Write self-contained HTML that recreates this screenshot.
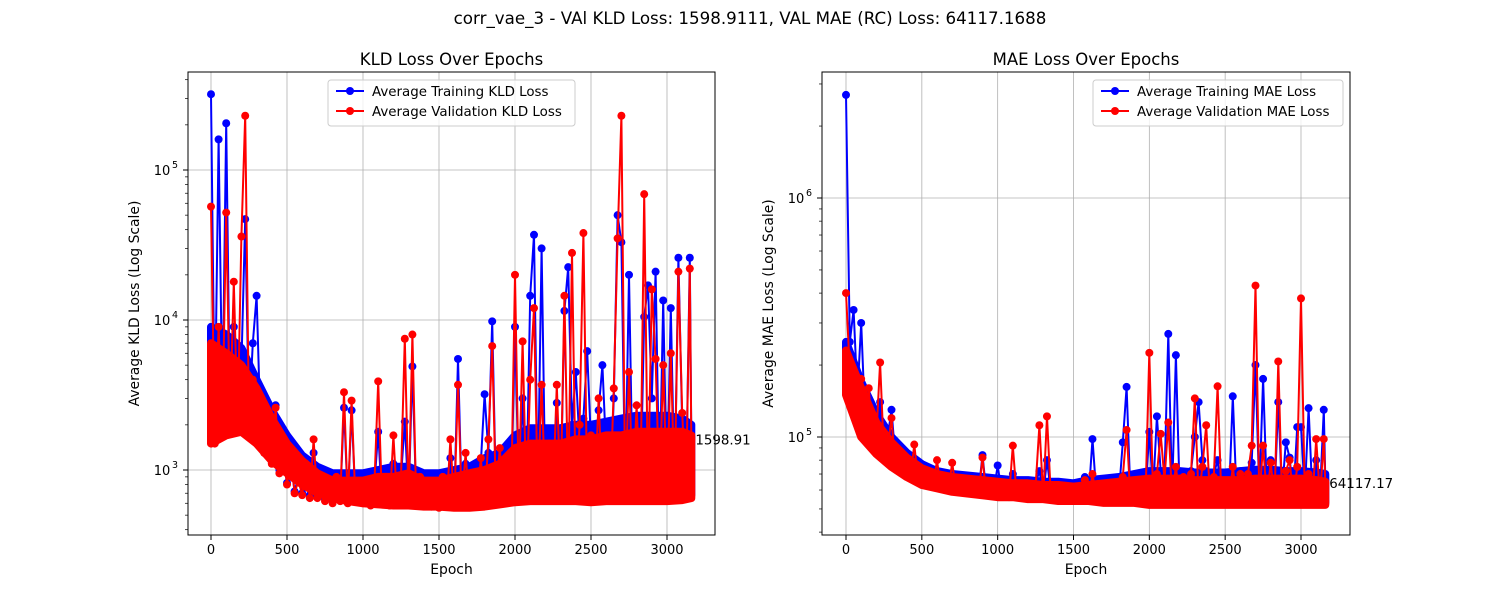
<!DOCTYPE html>
<html><head><meta charset="utf-8"><style>
body{margin:0;background:#fff;font-family:"Liberation Sans","DejaVu Sans",sans-serif;}
svg text{font-family:"DejaVu Sans","Liberation Sans",sans-serif;fill:#000;}
</style></head><body>
<svg id="chart" width="1500" height="600" xmlns="http://www.w3.org/2000/svg">
<rect width="1500" height="600" fill="#fff"/>
<text x="750" y="24" font-size="16.7" text-anchor="middle">corr_vae_3 - VAl KLD Loss: 1598.9111, VAL MAE (RC) Loss: 64117.1688</text>
</svg>
<script>
const xTicks=[0,500,1000,1500,2000,2500,3000];
const kldVal=[57000,1500,9000,2000,52000,2200,18000,2000,36000,230000,
2000,4000,1500,3000,1300,2000,1100,2600,950,1300,
800,1250,700,850,680,1100,650,1600,650,900,
620,800,600,900,620,3300,600,2900,620,800,
600,700,580,800,3900,600,900,580,1700,600,
900,7500,600,8000,620,900,580,800,570,700,
560,900,580,1600,570,3700,600,1300,570,900,
580,1200,600,1600,6700,650,1400,620,1100,650,
20000,700,7200,650,4000,12000,680,3700,650,1500,
700,3700,650,14500,700,28000,680,2000,38000,700,
1700,680,3000,700,1500,650,3500,35000,230000,700,
4500,700,2700,680,69000,700,16000,5500,700,5000,
680,6000,700,21000,2400,680,22000,1598.91];
const kldTrain=[320000,2000,160000,2500,205000,2300,9000,2200,5000,47000,
2200,7000,14500,2000,1500,1800,1200,2700,1000,1200,
820,1100,720,900,700,1000,680,1300,670,900,
640,850,620,900,640,2600,620,2500,640,820,
620,720,600,800,1800,620,900,600,1100,620,
900,2100,620,4900,640,850,600,800,590,700,
580,900,600,1200,590,5500,620,1100,600,900,
600,1100,3200,1300,9800,680,1200,640,1000,680,
9000,720,3000,680,14500,37000,700,30000,680,1300,
720,2800,680,11500,22500,2000,4500,1500,2200,6200,
1500,700,2500,5000,1300,680,3000,50000,33000,720,
20000,720,2200,700,10500,17000,3000,21000,700,13500,
700,12000,720,26000,2000,700,26000,1650];
const maeVal=[400000,190000,170000,130000,175000,110000,160000,95000,100000,205000,
85000,90000,120000,75000,80000,72000,75000,68000,93000,66000,
70000,64000,68000,62000,80000,61000,66000,60000,78000,60000,
64000,59000,63000,58000,64000,58000,82000,57000,62000,57000,
62000,57000,60000,56000,92000,57000,61000,56000,60000,56000,
62000,112000,56000,122000,57000,60000,56000,59000,55000,59000,
55000,62000,56000,66000,55000,70000,56000,62000,55000,60000,
56000,64000,57000,68000,107000,56000,65000,55000,63000,56000,
225000,57000,70000,103000,66000,115000,56000,75000,55000,68000,
56000,70000,145000,56000,75000,112000,56000,68000,163000,56000,
65000,55000,75000,56000,70000,55000,70000,92000,430000,56000,
92000,56000,78000,55000,207000,56000,72000,80000,55000,75000,
380000,56000,70000,55000,98000,56000,98000,64117.17];
const maeTrain=[2700000,250000,340000,150000,300000,120000,130000,110000,100000,140000,
95000,100000,130000,82000,85000,76000,78000,72000,76000,70000,
72000,67000,70000,65000,72000,64000,68000,63000,70000,62000,
66000,61000,65000,60000,66000,60000,84000,59000,64000,60000,
76000,59000,62000,58000,70000,59000,63000,58000,62000,58000,
64000,72000,58000,80000,59000,62000,58000,61000,57000,61000,
57000,64000,58000,68000,57000,98000,58000,64000,57000,62000,
58000,66000,59000,95000,162000,58000,67000,57000,65000,58000,
105000,59000,122000,72000,68000,270000,58000,220000,57000,70000,
58000,72000,100000,140000,80000,72000,58000,70000,80000,58000,
67000,57000,148000,58000,72000,57000,72000,78000,200000,58000,
175000,58000,80000,57000,140000,58000,95000,82000,57000,110000,
110000,58000,132000,57000,80000,58000,130000,66000];
const kldValLow=[1500,1700,1800,1500,1150,950,800,700,650,620,600,590,580,580,570,570,560,560,570,590,610,620,620,620,620,610,620,620,620,620,620,630,650];
const kldValHigh=[7000,6000,5000,3500,2200,1500,1150,950,850,850,850,900,900,950,850,850,900,950,1000,1100,1400,1500,1500,1500,1600,1600,1700,1700,1800,1800,1800,1800,1700];
const kldTrainLow=[1600,1800,1900,1600,1200,1000,850,750,680,650,630,610,600,600,590,590,580,580,590,610,630,640,640,640,640,630,640,640,640,640,640,650,680];
const kldTrainHigh=[9000,8000,6500,4000,2500,1700,1250,1050,950,950,950,1000,1050,1050,950,950,1000,1050,1200,1300,1700,1900,1900,1900,2000,2000,2100,2200,2300,2300,2300,2200,2000];
const maeValLow=[150000,100000,85000,75000,68000,63000,61000,59000,58000,57000,56000,56000,55000,55000,54000,54000,54000,53000,53000,53000,52000,52000,52000,52000,52000,52000,52000,52000,52000,52000,52000,52000,52000];
const maeValHigh=[230000,160000,115000,95000,82000,74000,70000,68000,67000,66000,65000,64000,64000,63000,63000,62000,63000,64000,65000,66000,67000,67000,67000,66000,66000,66000,66000,67000,67000,67000,67000,66000,65000];
const maeTrainLow=[160000,105000,88000,77000,70000,65000,62000,60000,59000,58000,57000,57000,56000,56000,55000,55000,55000,54000,54000,54000,53000,53000,53000,53000,53000,53000,53000,53000,53000,53000,53000,53000,53000];
const maeTrainHigh=[250000,170000,125000,100000,86000,77000,72000,70000,69000,68000,67000,66000,66000,65000,65000,64000,66000,67000,68000,70000,72000,72000,72000,71000,71000,71000,72000,73000,73000,72000,72000,71000,70000];
const epochStep=25, bandStep=100, lastEpoch=3160;
const NS="http://www.w3.org/2000/svg";
const svg=document.getElementById('chart');
function mk(tag,attrs,parent){const e=document.createElementNS(NS,tag);for(const k in attrs)e.setAttribute(k,attrs[k]);(parent||svg).appendChild(e);return e;}
function epochOf(i,n){return i===n-1?lastEpoch:i*epochStep;}
function bandEpoch(i,n){return i===n-1?lastEpoch:i*bandStep;}
function panel(cfg){
  const g=mk('g',{});
  
  
  const L=cfg.x0,R=cfg.x1,T=72,B=535;
  const xs=e=>cfg.px0+(e)*(cfg.px3000-cfg.px0)/3000;
  const ys=v=>cfg.yA+(Math.log10(v)-cfg.dA)*(cfg.yB-cfg.yA)/(cfg.dB-cfg.dA);
  const lo=cfg.dA+(B-cfg.yA)/(cfg.yB-cfg.yA)*(cfg.dB-cfg.dA), hi=cfg.dA+(T-cfg.yA)/(cfg.yB-cfg.yA)*(cfg.dB-cfg.dA);
  xTicks.forEach(t=>{const l=mk('line',{x1:xs(t),x2:xs(t),y1:T,y2:B,stroke:'#b0b0b0','stroke-width':0.8},g);
    });
  for(let d=Math.ceil(lo);d<=Math.floor(hi);d++){const l=mk('line',{x1:L,x2:R,y1:ys(Math.pow(10,d)),y2:ys(Math.pow(10,d)),stroke:'#b0b0b0','stroke-width':0.8},g);
    }
  const clip=mk('clipPath',{id:cfg.name+'-clip'},g);mk('rect',{x:L,y:T,width:R-L,height:B-T},clip);
  const plot=mk('g',{'clip-path':'url(#'+cfg.name+'-clip)'},g);
  [[cfg.train,cfg.trainLow,cfg.trainHigh,'#0000ff','training-series'],[cfg.val,cfg.valLow,cfg.valHigh,'#ff0000','validation-series']].forEach(([arr,bl,bh,col,nm])=>{
    const sg=mk('g',{},plot);
    
    const up=bh.map((v,i)=>xs(bandEpoch(i,bh.length)).toFixed(1)+','+ys(v).toFixed(1));
    const dn=bl.map((v,i)=>xs(bandEpoch(i,bl.length)).toFixed(1)+','+ys(v).toFixed(1)).reverse();
    const band=mk('polygon',{points:up.concat(dn).join(' '),fill:col,stroke:col,'stroke-width':8,'stroke-linejoin':'round'},sg);
    
    const pts=arr.map((v,i)=>xs(epochOf(i,arr.length)).toFixed(1)+','+ys(v).toFixed(1)).join(' ');
    const pl=mk('polyline',{points:pts,fill:'none',stroke:col,'stroke-width':2,'stroke-linejoin':'round'},sg);
    
    arr.forEach((v,i)=>{const c=mk('circle',{cx:xs(epochOf(i,arr.length)),cy:ys(v),r:4,fill:col},sg);
      });
  });
  const fr=mk('rect',{x:L,y:T,width:R-L,height:B-T,fill:'none',stroke:'#000','stroke-width':1},g);
  
  xTicks.forEach(t=>{mk('line',{x1:xs(t),x2:xs(t),y1:B,y2:B+5,stroke:'#000'},g);
    const tx=mk('text',{x:xs(t),y:B+19,'font-size':13,'text-anchor':'middle'},g);tx.textContent=t;
    });
  for(let d=Math.floor(lo);d<=Math.ceil(hi);d++){
    for(let m=1;m<10;m++){const v=m*Math.pow(10,d),lv=Math.log10(v);if(lv<lo||lv>hi)continue;
      const y=ys(v);mk('line',{x1:L-(m===1?5:3),x2:L,y1:y,y2:y,stroke:'#000','stroke-width':m===1?1:0.7},g);
      if(m===1){const tx=mk('text',{x:L-26,y:y+5,'font-size':13,'text-anchor':'middle'},g);tx.textContent='10';
        
        const sp=mk('text',{x:L-13,y:y-2,'font-size':9.5,'text-anchor':'middle'},g);sp.textContent=d;}
    }}
  const tt=mk('text',{x:(L+R)/2,y:65,'font-size':16.5,'text-anchor':'middle'},g);tt.textContent=cfg.title;
  
  const xl=mk('text',{x:(L+R)/2,y:574,'font-size':13.9,'text-anchor':'middle'},g);xl.textContent='Epoch';
  
  const yl=mk('text',{x:0,y:0,'font-size':13.9,'text-anchor':'middle',transform:'translate('+(L-49)+','+((T+B)/2)+') rotate(-90)'},g);yl.textContent=cfg.ylabel;
  
  const last=cfg.val[cfg.val.length-1];
  const an=mk('text',{x:xs(lastEpoch)+4,y:ys(last)+5,'font-size':13.4},g);an.textContent=last.toFixed(2);
  
  const lg=mk('g',{},g);
  mk('rect',{x:cfg.lgx,y:80,width:cfg.lgw,height:46,rx:3,fill:'#fff','fill-opacity':0.8,stroke:'#ccc'},lg);
  [[cfg.leg1,'#0000ff',96],[cfg.leg2,'#ff0000',116]].forEach(([t,c,y])=>{
    const e=mk('g',{},lg);
    mk('line',{x1:cfg.lgx+8,x2:cfg.lgx+36,y1:y-5,y2:y-5,stroke:c,'stroke-width':2},e);
    mk('circle',{cx:cfg.lgx+22,cy:y-5,r:4,fill:c},e);
    const tx=mk('text',{x:cfg.lgx+44,y:y,'font-size':13.4},e);tx.textContent=t;});
}
panel({name:'kld-panel',x0:188,x1:715,px0:211,px3000:667,yA:470,dA:3,yB:170,dB:5,train:kldTrain,val:kldVal,
  trainLow:kldTrainLow,trainHigh:kldTrainHigh,valLow:kldValLow,valHigh:kldValHigh,
  title:'KLD Loss Over Epochs',ylabel:'Average KLD Loss (Log Scale)',leg1:'Average Training KLD Loss',leg2:'Average Validation KLD Loss',lgx:328,lgw:247});
panel({name:'mae-panel',x0:822,x1:1350,px0:846,px3000:1301,yA:437,dA:5,yB:198,dB:6,train:maeTrain,val:maeVal,
  trainLow:maeTrainLow,trainHigh:maeTrainHigh,valLow:maeValLow,valHigh:maeValHigh,
  title:'MAE Loss Over Epochs',ylabel:'Average MAE Loss (Log Scale)',leg1:'Average Training MAE Loss',leg2:'Average Validation MAE Loss',lgx:1093,lgw:250});
</script>
</body></html>
